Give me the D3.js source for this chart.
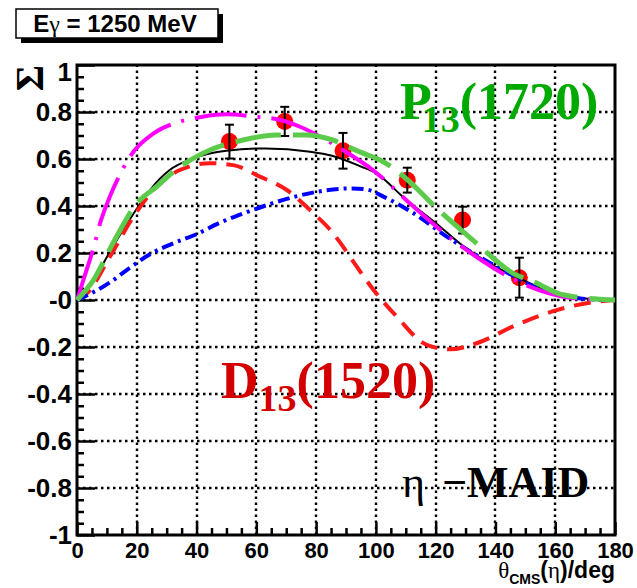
<!DOCTYPE html>
<head>
  <meta charset="utf-8">
  <style>
    body { margin: 0; background: #fff; }
    svg { display: block; }
    .lab { font-family: 'Liberation Sans', Arial, sans-serif; font-weight: bold; }
    .tim { font-family: 'Liberation Serif', 'Times New Roman', serif; font-weight: bold; }
  </style>
  <script src="https://cdn.jsdelivr.net/npm/d3@7"></script>
</head>
<body>
<div id=chart></div>
<script>
// tick values and labels (ROOT prints "-0" at the zero line)
const xTicks = [0, 20, 40, 60, 80, 100, 120, 140, 160, 180]
const yTicks = [-1, -0.8, -0.6, -0.4, -0.2, 0, 0.2, 0.4, 0.6, 0.8, 1]
const yLabels = ['-1', '-0.8', '-0.6', '-0.4', '-0.2', '-0', '0.2', '0.4', '0.6', '0.8', '1']

// measured beam asymmetry, E_gamma = 1250 MeV
const dataTheta = [51, 69.5, 89, 110.5, 129, 148]
const dataSigma = [0.674, 0.76, 0.635, 0.51, 0.34, 0.095]
const dataErr = [0.072, 0.062, 0.076, 0.053, 0.057, 0.085]

// eta-MAID curves [theta, sigma]
const maidFull = [[0,0],[5.5,0.085],[12,0.227],[19,0.369],[24.4,0.468],[31,0.553],[39,0.603],[50,0.635],[63,0.645],[78,0.631],[85,0.615],[95,0.568],[100,0.54],[110,0.428],[120,0.328],[130,0.222],[140,0.142],[150,0.08],[160,0.03],[170,0.006],[180,0]]
const maidD13 = [[0,0],[3.3,0.028],[11,0.184],[18.9,0.355],[26.6,0.482],[34.4,0.553],[44.5,0.582],[52.3,0.574],[61.2,0.525],[70.2,0.468],[79.1,0.369],[84.6,0.3],[88,0.245],[92.5,0.162],[99.1,0.045],[107,-0.071],[117,-0.191],[124.8,-0.21],[133.7,-0.184],[147,-0.106],[160.5,-0.043],[173.9,-0.007],[180,0]]
const maidBlue = [[0,0],[5,0.03],[11,0.075],[18,0.14],[24.4,0.195],[32,0.24],[40,0.28],[48,0.33],[56,0.37],[65,0.41],[73,0.44],[83.5,0.467],[92,0.475],[97,0.47],[102.5,0.44],[112.5,0.37],[123.7,0.27],[140.4,0.142],[157.2,0.035],[172,0.003],[180,0]]
const maidMagenta = [[0,0],[3,0.12],[5.5,0.22],[7.8,0.33],[11,0.44],[15,0.55],[18.9,0.631],[25.6,0.709],[34.4,0.759],[42,0.78],[50,0.79],[59.6,0.78],[68,0.766],[75,0.735],[81.4,0.695],[90,0.63],[99,0.553],[111.4,0.411],[125.8,0.255],[133.6,0.184],[145,0.095],[155,0.04],[162.7,0.014],[170,0.004],[180,0]]
const maidP13 = [[0,0],[5.5,0.085],[12,0.241],[20,0.411],[26.6,0.482],[33,0.553],[42,0.624],[55.6,0.681],[66.8,0.702],[76.8,0.702],[85,0.683],[95,0.628],[101.4,0.596],[114.8,0.461],[118.1,0.418],[130.4,0.277],[133.7,0.241],[147,0.106],[151.5,0.085],[163,0.021],[180,0]]

const width = 637, height = 588
const m = { left: 77, right: 22, top: 65, bottom: 53 }

const svg = d3.select('#chart').append('svg')
  .attr('width', width).attr('height', height)
  .attr('viewBox', [0, 0, width, height])

const x = d3.scaleLinear().domain([0, 180]).range([m.left, width - m.right])
const y = d3.scaleLinear().domain([-1, 1]).range([height - m.bottom, m.top])

// dotted grid
const gridStyle = sel => sel
  .style('stroke', '#000').style('stroke-width', '2.4px').style('stroke-dasharray', '2.5,3.5')
const grid = svg.append('g').attr('class', 'grid')
grid.selectAll('line.gx').data(xTicks.slice(1, -1)).enter().append('line')
  .attr('class', 'gx')
  .attr('x1', d => Math.round(x(d))).attr('x2', d => Math.round(x(d)))
  .attr('y1', y(-1)).attr('y2', y(1))
  .call(gridStyle)
grid.selectAll('line.gy').data(yTicks.slice(1, -1)).enter().append('line')
  .attr('class', 'gy')
  .attr('x1', x(0)).attr('x2', x(180))
  .attr('y1', d => Math.round(y(d))).attr('y2', d => Math.round(y(d)))
  .call(gridStyle)

// axes (ROOT style, ticks inside)
const minorY = d3.range(-1, 1.001, 0.05).filter(v => Math.abs(Math.round(v * 5) - v * 5) > 1e-6)
const minorX = d3.range(0, 181, 5).filter(v => v % 20 !== 0)

const styleAxis = g => {
  g.select('.domain').remove()
  g.selectAll('line').attr('stroke-width', 2.5)
}
svg.append('g').attr('transform', `translate(${m.left},0)`)
  .call(d3.axisLeft(y).tickValues(minorY).tickSize(-7).tickFormat(''))
  .call(styleAxis)
svg.append('g').attr('transform', `translate(${m.left},0)`)
  .call(d3.axisLeft(y).tickValues(yTicks).tickSize(-18).tickPadding(5).tickFormat((d, i) => yLabels[i]))
  .call(styleAxis)
  .call(g => g.selectAll('text').attr('class', 'lab').attr('font-size', 26).attr('fill', '#000'))
  .call(g => g.selectAll('.tick').filter(d => d === 1).select('text').attr('dy', '0.6em'))
svg.append('g').attr('transform', `translate(0,${height - m.bottom})`)
  .call(d3.axisBottom(x).tickValues(minorX).tickSize(-7).tickFormat(''))
  .call(styleAxis)
svg.append('g').attr('transform', `translate(0,${height - m.bottom})`)
  .call(d3.axisBottom(x).tickValues(xTicks).tickSize(-13).tickPadding(7))
  .call(styleAxis)
  .call(g => g.selectAll('text').attr('class', 'lab').attr('font-size', 22).attr('fill', '#000'))

// frame
svg.append('rect')
  .attr('x', x(0)).attr('y', y(1)).attr('width', x(180) - x(0)).attr('height', y(-1) - y(1))
  .attr('fill', 'none').attr('stroke', '#000').attr('stroke-width', 3)

// data points with error bars
const pts = dataTheta.map((t, i) => ({ t, s: dataSigma[i], e: dataErr[i] }))
const pg = svg.append('g')
pg.selectAll('circle').data(pts).join('circle')
  .attr('cx', d => x(d.t)).attr('cy', d => y(d.s)).attr('r', 8.5).attr('fill', '#ff0000')
const eb = pg.append('g').attr('stroke', '#000').attr('stroke-width', 2)
eb.selectAll('.v').data(pts).join('line')
  .attr('x1', d => x(d.t)).attr('x2', d => x(d.t)).attr('y1', d => y(d.s + d.e)).attr('y2', d => y(d.s - d.e))
eb.selectAll('.t').data(pts.flatMap(d => [d.s + d.e, d.s - d.e].map(v => ({ t: d.t, v })))).join('line')
  .attr('x1', d => x(d.t) - 4.5).attr('x2', d => x(d.t) + 4.5).attr('y1', d => y(d.v)).attr('y2', d => y(d.v))

// model curves
const line = d3.line().x(d => x(d[0])).y(d => y(d[1])).curve(d3.curveMonotoneX)
const curves = [
  { data: maidFull, color: '#000', w: 2, dash: null },
  { data: maidD13, color: '#ff1a1a', w: 4, dash: '17 10' },
  { data: maidBlue, color: '#0000ff', w: 4, dash: '12 5 3 5' },
  { data: maidMagenta, color: '#ff00ff', w: 4, dash: '52 11 3 11' },
  { data: maidP13, color: '#5ccb4c', w: 5, dash: '46 12' },
]
svg.append('g').selectAll('path').data(curves).join('path')
  .attr('d', d => line(d.data))
  .attr('fill', 'none')
  .attr('stroke', d => d.color)
  .attr('stroke-width', d => d.w)
  .attr('stroke-dasharray', d => d.dash)

// resonance labels
const resLabel = (px, py, name, sub, rest, color, subDx) => {
  const t = svg.append('text').attr('class', 'tim').attr('x', px).attr('y', py)
    .attr('fill', color).attr('font-size', 52)
  t.append('tspan').text(name)
  t.append('tspan').attr('font-size', 38).attr('dx', subDx).attr('dy', 13).text(sub)
  t.append('tspan').attr('dy', -13).text(rest)
}
resLabel(400, 119, 'P', '13', '(1720)', '#00aa00', -10)
resLabel(221, 398, 'D', '13', '(1520)', '#d40000', 0)

const maid = svg.append('text').attr('class', 'tim').attr('x', 402).attr('y', 497).attr('font-size', 44).attr('fill', '#000')
maid.append('tspan').attr('font-weight', 'normal').text('η')
maid.append('tspan').attr('x', 442).text('−MAID')

// axis titles
const xt = svg.append('text').attr('class', 'lab').attr('x', x(180)).attr('y', 578)
  .attr('text-anchor', 'end').attr('font-size', 23)
xt.append('tspan').attr('font-family', 'Liberation Serif, serif').attr('font-weight', 'normal').text('θ')
xt.append('tspan').attr('font-size', 14).attr('dy', 6).text('CMS')
xt.append('tspan').attr('dy', -6).text('(')
xt.append('tspan').attr('font-family', 'Liberation Serif, serif').attr('font-weight', 'normal').text('η')
xt.append('tspan').text(')/deg')

svg.append('text').attr('class', 'tim')
  .attr('transform', `translate(43,${m.top}) rotate(-90)`)
  .attr('text-anchor', 'end').attr('font-size', 40).text('Σ')

// energy box with shadow
svg.append('rect').attr('x', 21).attr('y', 14).attr('width', 202).attr('height', 29).attr('fill', '#000')
svg.append('rect').attr('x', 16).attr('y', 9).attr('width', 202).attr('height', 29)
  .attr('fill', '#fff').attr('stroke', '#000').attr('stroke-width', 1.5)
const eb2 = svg.append('text').attr('class', 'lab').attr('x', 115).attr('y', 32).attr('text-anchor', 'middle')
  .attr('font-size', 24)
eb2.append('tspan').text('E')
eb2.append('tspan').attr('font-family', 'Liberation Serif, serif').attr('font-weight', 'normal').text('γ')
eb2.append('tspan').text(' = 1250 MeV')
</script>
</body>
